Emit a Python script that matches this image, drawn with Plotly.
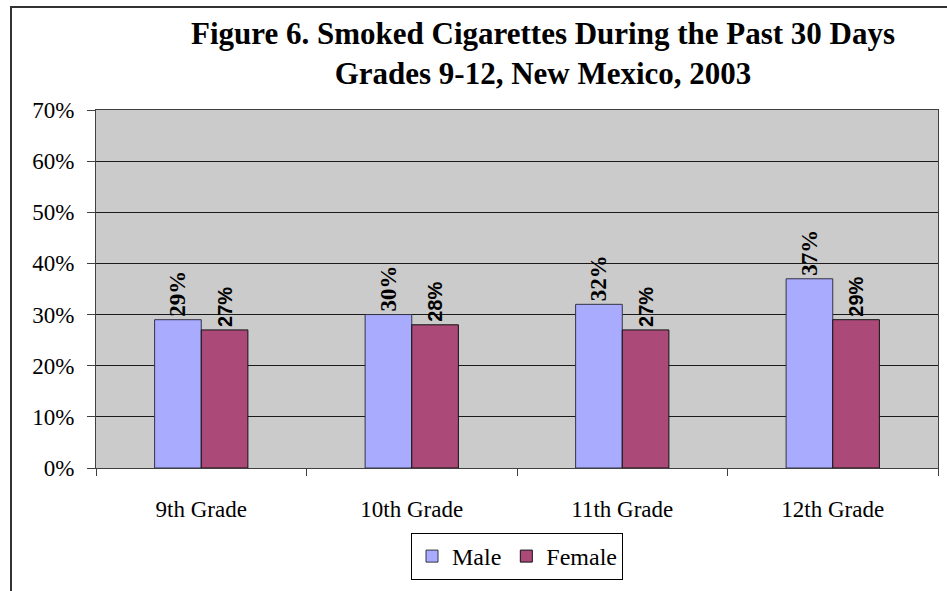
import plotly.graph_objects as go

# Grades shown on the category axis
grades = ["9th Grade", "10th Grade", "11th Grade", "12th Grade"]

# Percent of students who smoked cigarettes in the past 30 days
male_pct = [29, 30, 32, 37]
female_pct = [27, 28, 27, 29]

# Value axis ticks
y_ticks = [0, 10, 20, 30, 40, 50, 60, 70]
y_tick_labels = ["0%", "10%", "20%", "30%", "40%", "50%", "60%", "70%"]

title_text = ("<b>Figure 6. Smoked Cigarettes During the Past 30 Days</b><br>"
              "<b>Grades 9-12, New Mexico, 2003</b>")

SERIF = "Liberation Serif, Times New Roman, serif"
SANS = "Liberation Sans, Arial, sans-serif"

# plot area in pixels: left 96, right 938, top 110, bottom 468
PL, PR, PT, PB = 96, 938, 110, 468
PW, PH = PR - PL, PB - PT

fig = go.Figure()

fig.add_trace(go.Bar(
    name="Male",
    x=grades,
    y=male_pct,
    text=[f"{v}%" for v in male_pct],
    textposition="outside",
    textangle=-90,
    constraintext="none",
    cliponaxis=False,
    textfont=dict(family=SERIF, size=23, color="black", weight="bold"),
    marker=dict(color="#A9ABFF", line=dict(color="#333344", width=1)),
    hoverinfo="skip",
))

fig.add_trace(go.Bar(
    name="Female",
    x=grades,
    y=female_pct,
    text=[f"{v}%" for v in female_pct],
    textposition="outside",
    textangle=-90,
    constraintext="none",
    cliponaxis=False,
    textfont=dict(family=SANS, size=20, color="black", weight="bold"),
    marker=dict(color="#AB4A78", line=dict(color="#111111", width=1)),
    hoverinfo="skip",
))

fig.update_layout(
    width=947,
    height=591,
    margin=dict(l=PL, r=947 - PR, t=PT, b=591 - PB),
    paper_bgcolor="white",
    plot_bgcolor="#CBCBCB",
    barmode="group",
    bargap=0.557,
    bargroupgap=0,
    font=dict(family=SERIF, color="black", size=23),
    showlegend=True,
    legend=dict(
        orientation="h",
        x=0.5,
        xanchor="center",
        y=-(533 - PB) / PH,
        yanchor="top",
        bgcolor="white",
        bordercolor="black",
        borderwidth=1,
        font=dict(family=SERIF, size=24, color="black"),
        itemwidth=30,
        traceorder="normal",
    ),
    annotations=[
        dict(
            text=title_text,
            xref="paper", yref="paper",
            x=(543 - PL) / PW,
            y=(PB - 54) / PH,
            xanchor="center", yanchor="middle",
            showarrow=False,
            align="center",
            font=dict(family=SERIF, size=31, color="black"),
        ),
    ],
    shapes=[
        # chart frame (runs off the right and bottom of the page)
        dict(type="rect", xref="paper", yref="paper",
             x0=(11 - PL) / PW, x1=1.3,
             y0=(PB - 7) / PH, y1=-0.5,
             line=dict(color="#333333", width=2),
             fillcolor="rgba(0,0,0,0)", layer="below"),
    ],
)

fig.update_xaxes(
    showline=True,
    linecolor="#404040",
    linewidth=1,
    mirror=True,
    ticks="outside",
    tickson="boundaries",
    ticklen=7,
    tickcolor="#404040",
    showgrid=False,
    tickfont=dict(family=SERIF, size=23, color="black"),
    ticklabelstandoff=20,
)

fig.update_yaxes(
    range=[0, 70],
    tickvals=y_ticks,
    ticktext=y_tick_labels,
    showline=True,
    linecolor="#404040",
    linewidth=1,
    mirror=True,
    ticks="outside",
    ticklen=8,
    tickcolor="#404040",
    showgrid=True,
    gridcolor="#1a1a1a",
    gridwidth=1,
    zeroline=False,
    tickfont=dict(family=SERIF, size=23, color="black"),
    ticklabelstandoff=8,
)

fig.write_html("out.html")
